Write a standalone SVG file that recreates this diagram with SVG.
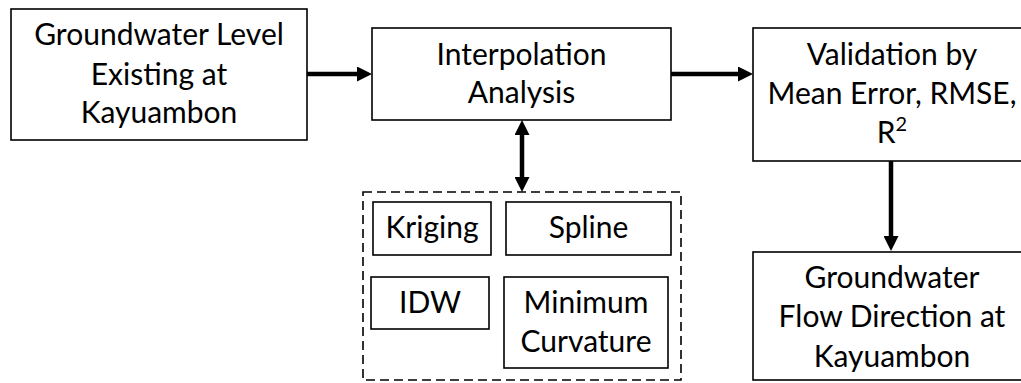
<svg xmlns="http://www.w3.org/2000/svg" width="1021" height="383" viewBox="0 0 1021 383">
<style>
.box{fill:#fff;stroke:#000;stroke-width:1.6}
.grp{fill:none;stroke:#000;stroke-width:1.6;stroke-dasharray:9 5}
.t{font-family:Lato,"Open Sans",sans-serif;font-size:30px;fill:#000;text-anchor:middle}
.conn{stroke:#000;stroke-width:4.5;fill:none}
</style>
<defs>
<marker id="ah" markerUnits="userSpaceOnUse" markerWidth="15" markerHeight="15" refX="0" refY="7.5" orient="auto-start-reverse">
<path d="M0,0 L15,7.5 L0,15 z" fill="#000"/>
</marker>
</defs>
<rect width="1021" height="383" fill="#fff"/>
<g id="connectors">
<line class="conn" x1="307" y1="74" x2="357" y2="74" marker-end="url(#ah)"/>
<line class="conn" x1="671" y1="74" x2="738" y2="74" marker-end="url(#ah)"/>
<line class="conn" x1="522" y1="135" x2="522" y2="177" marker-start="url(#ah)" marker-end="url(#ah)"/>
<line class="conn" x1="891" y1="161" x2="891" y2="236" marker-end="url(#ah)"/>
</g>
<g id="groundwater-level">
<rect class="box" x="11" y="9" width="296" height="131"/>
<text class="t" x="159" y="45">Groundwater Level</text>
<text class="t" x="159" y="85">Existing at</text>
<text class="t" x="159" y="123">Kayuambon</text>
</g>
<g id="interpolation">
<rect class="box" x="372" y="28" width="299" height="92"/>
<text class="t" x="521.5" y="65">Interpolation</text>
<text class="t" x="521.5" y="103">Analysis</text>
</g>
<g id="validation">
<rect class="box" x="753" y="28" width="280" height="133"/>
<text class="t" x="892" y="65">Validation by</text>
<text class="t" x="892" y="104">Mean Error, RMSE,</text>
<text class="t" x="892" y="143">R<tspan font-size="20" dy="-12">2</tspan></text>
</g>
<g id="flow-direction">
<rect class="box" x="753" y="252" width="280" height="128"/>
<text class="t" x="892" y="288">Groundwater</text>
<text class="t" x="892" y="327">Flow Direction at</text>
<text class="t" x="892" y="367">Kayuambon</text>
</g>
<g id="methods">
<rect class="grp" x="363" y="192" width="318" height="188"/>
</g>
<g id="kriging">
<rect class="box" x="373" y="202" width="118" height="53"/>
<text class="t" x="432" y="238">Kriging</text>
</g>
<g id="spline">
<rect class="box" x="506" y="202" width="165" height="53"/>
<text class="t" x="588.5" y="238">Spline</text>
</g>
<g id="idw">
<rect class="box" x="371" y="277" width="118" height="52"/>
<text class="t" x="430" y="313">IDW</text>
</g>
<g id="minimum-curvature">
<rect class="box" x="504" y="277" width="164" height="91"/>
<text class="t" x="586" y="313">Minimum</text>
<text class="t" x="586" y="352">Curvature</text>
</g>
</svg>
